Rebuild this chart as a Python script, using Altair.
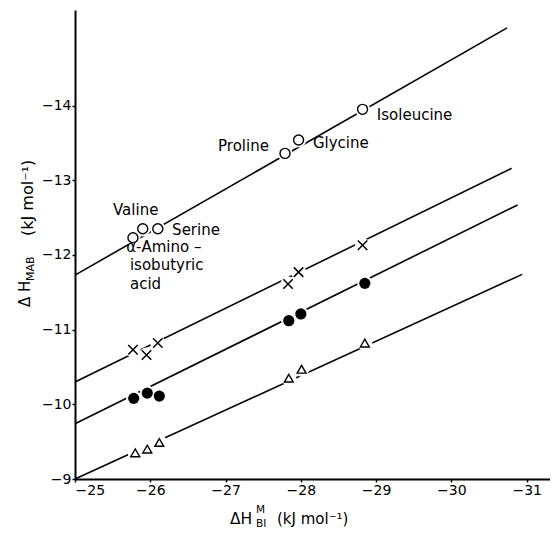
import altair as alt
import pandas as pd

FONT = "DejaVu Sans"

# Amino acids (order of points along each line)
amino = ["Valine", "α-Aminoisobutyric acid", "Serine", "Proline", "Glycine", "Isoleucine"]

# open circles (top series)
open_x = [-25.77, -25.90, -26.10, -27.79, -27.97, -28.82]
open_y = [-12.23, -12.35, -12.35, -13.36, -13.54, -13.95]
# crosses
cross_x = [-25.77, -25.95, -26.10, -27.83, -27.97, -28.82]
cross_y = [-10.73, -10.66, -10.82, -11.61, -11.77, -12.13]
# filled circles
filled_x = [-25.78, -25.96, -26.12, -27.84, -28.00, -28.85]
filled_y = [-10.08, -10.15, -10.11, -11.12, -11.21, -11.62]
# open triangles
tri_x = [-25.80, -25.96, -26.12, -27.84, -28.01, -28.85]
tri_y = [-9.35, -9.40, -9.49, -10.35, -10.47, -10.82]

# fitted straight lines (start and end)
line_series = ["open", "cross", "filled", "triangle"]
line_x0 = [-25.0, -25.0, -25.0, -25.0]
line_y0 = [-11.73, -10.30, -9.74, -9.00]
line_x1 = [-30.74, -30.80, -30.88, -30.94]
line_y1 = [-15.04, -13.16, -12.67, -11.74]

# point labels
label_text = ["Valine", "Serine", "α-Amino –", "isobutyric", "acid", "Proline", "Glycine", "Isoleucine"]
label_x = [-25.505, -26.29, -25.68, -25.73, -25.73, -26.90, -28.16, -29.01]
label_y = [-12.60, -12.33, -12.10, -11.865, -11.61, -13.46, -13.50, -13.87]

x_ticks = [-25, -26, -27, -28, -29, -30, -31]
y_ticks = [-9, -10, -11, -12, -13, -14]

xs = alt.Scale(domain=[-31.31, -25], reverse=True, nice=False, zero=False)
ys = alt.Scale(domain=[-15.28, -9], reverse=True, nice=False, zero=False)

def pts(xv, yv):
    return pd.DataFrame({"amino": amino, "x": xv, "y": yv})

df_open = pts(open_x, open_y)
df_cross = pts(cross_x, cross_y)
df_filled = pts(filled_x, filled_y)
df_tri = pts(tri_x, tri_y)
df_all = pd.concat([df_open, df_cross, df_filled, df_tri])
df_lines = pd.DataFrame({"s": line_series, "x": line_x0, "y": line_y0, "x2": line_x1, "y2": line_y1})
df_labels = pd.DataFrame({"t": label_text, "x": label_x, "y": label_y})

X = alt.X("x:Q", scale=xs, axis=alt.Axis(values=x_ticks, format="d", title=None))
Y = alt.Y("y:Q", scale=ys, axis=alt.Axis(values=y_ticks, format="d", title=None))

lines = alt.Chart(df_lines).mark_rule(color="black", strokeWidth=1.6).encode(
    x=X, y=Y, x2="x2:Q", y2="y2:Q")

halo = alt.Chart(df_all).mark_point(filled=True, color="white", opacity=1, size=230, shape="circle").encode(x=X, y=Y)

m_open = alt.Chart(df_open).mark_point(shape="circle", filled=False, color="black",
                                       strokeWidth=1.4, size=100, opacity=1).encode(x=X, y=Y)
m_cross = alt.Chart(df_cross).mark_point(shape="M-1,-1L1,1M1,-1L-1,1", filled=False, color="black",
                                         strokeWidth=1.5, size=90, opacity=1).encode(x=X, y=Y)
m_filled = alt.Chart(df_filled).mark_point(shape="circle", filled=True, color="black",
                                           size=125, opacity=1).encode(x=X, y=Y)
m_tri = alt.Chart(df_tri).mark_point(shape="triangle-up", filled=False, color="black",
                                     strokeWidth=1.4, size=80, opacity=1).encode(x=X, y=Y)

labels = alt.Chart(df_labels).mark_text(align="left", baseline="middle", font=FONT,
                                         fontSize=15, color="black").encode(x=X, y=Y, text="t:N")

one = pd.DataFrame({"a": [0]})

def txt(s, x, y, size, angle=0):
    kw = dict(text=s, align="left", baseline="middle", font=FONT, fontSize=size, color="black")
    if angle:
        kw["angle"] = angle
    return alt.Chart(one).mark_text(**kw).encode(x=alt.value(x), y=alt.value(y))

titles = [
    txt("ΔH", 155, 509, 15.5),
    txt("M", 181, 500, 10.5),
    txt("BI", 181, 514, 10.5),
    txt("(kJ mol⁻¹)", 202, 509, 15),
    txt("Δ H", -50, 297, 15, 270),
    txt("MAB", -44, 271, 11, 270),
    txt("(kJ mol⁻¹)", -47, 226, 16, 270),
]

chart = alt.layer(lines, halo, m_open, m_cross, m_filled, m_tri, labels, *titles).properties(
    width=475, height=469,
    autosize=alt.AutoSizeParams(type="none"),
    padding={"left": 67, "top": 2, "right": 0, "bottom": 50},
    background="white",
).configure_view(stroke=None).configure_axis(
    grid=False, domainColor="black", domainWidth=2, tickColor="black", tickWidth=1.5,
    tickSize=3, labelPadding=1, labelFont=FONT, labelFontSize=14, labelColor="black",
)

chart.save("out.html", embed_options={"renderer": "svg", "actions": False})
